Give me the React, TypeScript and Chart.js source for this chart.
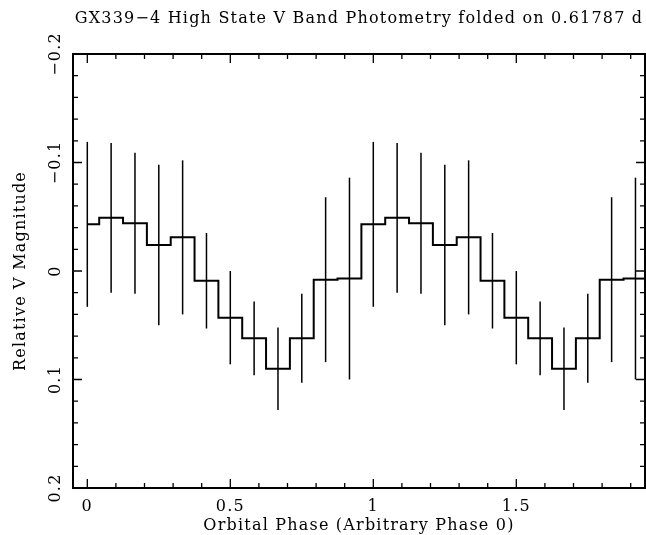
import React, { useEffect, useRef } from "react";
import { Chart, registerables } from "chart.js";

Chart.register(...registerables);

// Orbital phase of each bin centre (two cycles plotted)
const phase = [
  0, 0.0833, 0.1667, 0.25, 0.3333, 0.4167, 0.5, 0.5833, 0.6667, 0.75, 0.8333, 0.9167,
  1, 1.0833, 1.1667, 1.25, 1.3333, 1.4167, 1.5, 1.5833, 1.6667, 1.75, 1.8333, 1.9167,
];
// Relative V magnitude per bin
const magnitude = [
  -0.043, -0.049, -0.044, -0.024, -0.031, 0.009, 0.043, 0.062, 0.09, 0.062, 0.008, 0.007,
  -0.043, -0.049, -0.044, -0.024, -0.031, 0.009, 0.043, 0.062, 0.09, 0.062, 0.008, 0.007,
];
// 1-sigma error per bin
const errors = [
  0.076, 0.069, 0.065, 0.074, 0.071, 0.044, 0.043, 0.034, 0.038, 0.041, 0.076, 0.093,
  0.076, 0.069, 0.065, 0.074, 0.071, 0.044, 0.043, 0.034, 0.038, 0.041, 0.076, 0.093,
];
const binWidth = 1 / 12;

const xTickValues = [0, 0.5, 1, 1.5];
const xTickLabels = ["0", "0.5", "1", "1.5"];
const yTickValues = [-0.2, -0.1, 0, 0.1, 0.2];
const yTickLabels = ["\u22120.2", "\u22120.1", "0", "0.1", "0.2"];

const titleText = "GX339\u22124 High State V Band Photometry folded on 0.61787 d";
const xTitle = "Orbital Phase (Arbitrary Phase 0)";
const yTitle = "Relative V Magnitude";

const FONT = "'DejaVu Serif', serif";
const SPACING = "1.2px";

const decorPlugin = {
  id: "decor",
  beforeDraw(chart: any) {
    (chart.ctx as any).letterSpacing = SPACING;
  },
  afterDatasetsDraw(chart: any) {
    const { ctx, chartArea, scales } = chart;
    const xs = scales.x;
    const ys = scales.y;
    ctx.save();
    ctx.beginPath();
    ctx.rect(chartArea.left, chartArea.top, chartArea.right - chartArea.left, chartArea.bottom - chartArea.top);
    ctx.clip();
    ctx.strokeStyle = "#000";
    // error bars
    ctx.lineWidth = 1.5;
    for (let i = 0; i < phase.length; i++) {
      const x = xs.getPixelForValue(phase[i]);
      const y1 = ys.getPixelForValue(magnitude[i] - errors[i]);
      const y2 = ys.getPixelForValue(magnitude[i] + errors[i]);
      ctx.beginPath();
      ctx.moveTo(x, y1);
      ctx.lineTo(x, y2);
      ctx.stroke();
    }
    // last half-bin of the histogram
    const n = phase.length - 1;
    ctx.lineWidth = 2;
    ctx.beginPath();
    ctx.moveTo(xs.getPixelForValue(phase[n]), ys.getPixelForValue(magnitude[n]));
    ctx.lineTo(xs.getPixelForValue(phase[n] + binWidth / 2), ys.getPixelForValue(magnitude[n]));
    ctx.stroke();
    ctx.restore();
  },
  afterDraw(chart: any) {
    const { ctx, chartArea, scales } = chart;
    const xs = scales.x;
    const ys = scales.y;
    const { left, right, top, bottom } = chartArea;
    ctx.save();
    ctx.strokeStyle = "#000";
    ctx.lineWidth = 2;
    ctx.strokeRect(left, top, right - left, bottom - top);
    ctx.lineWidth = 1.3;
    // x ticks (inward, top and bottom)
    for (let k = 0; k <= 19; k++) {
      const v = k / 10;
      const x = xs.getPixelForValue(v);
      if (x < left || x > right) continue;
      const len = k % 5 === 0 ? 9 : 5;
      ctx.beginPath();
      ctx.moveTo(x, bottom);
      ctx.lineTo(x, bottom - len);
      ctx.moveTo(x, top);
      ctx.lineTo(x, top + len);
      ctx.stroke();
    }
    // y ticks (inward, left and right)
    for (let k = -10; k <= 10; k++) {
      const v = k / 50;
      const y = ys.getPixelForValue(v);
      const len = k % 5 === 0 ? 9 : 5;
      ctx.beginPath();
      ctx.moveTo(left, y);
      ctx.lineTo(left + len, y);
      ctx.moveTo(right, y);
      ctx.lineTo(right - len, y);
      ctx.stroke();
    }
    // y tick labels (rotated)
    ctx.fillStyle = "#000";
    (ctx as any).letterSpacing = SPACING;
    ctx.font = `16px ${FONT}`;
    ctx.textAlign = "center";
    ctx.textBaseline = "middle";
    for (let i = 0; i < yTickValues.length; i++) {
      const y = ys.getPixelForValue(yTickValues[i]);
      ctx.save();
      ctx.translate(56, y);
      ctx.rotate(-Math.PI / 2);
      ctx.fillText(yTickLabels[i], 0, 0);
      ctx.restore();
    }
    // main title
    ctx.font = `16px ${FONT}`;
    ctx.textAlign = "center";
    ctx.textBaseline = "alphabetic";
    ctx.fillText(titleText, 359, 23);
    ctx.restore();
  },
};

export default function App() {
  const ref = useRef<HTMLCanvasElement | null>(null);
  useEffect(() => {
    if (!ref.current) return;
    const chart = new Chart(ref.current, {
      type: "line",
      data: {
        labels: phase,
        datasets: [
          {
            data: phase.map((p, i) => ({ x: p, y: magnitude[i] })),
            borderColor: "#000",
            borderWidth: 2,
            pointRadius: 0,
            stepped: "middle",
            fill: false,
          },
        ],
      },
      options: {
        responsive: false,
        maintainAspectRatio: false,
        devicePixelRatio: 1,
        animation: false,
        layout: { padding: { top: 54, right: 1, left: 0, bottom: 0 } },
        plugins: {
          legend: { display: false },
          title: { display: false },
          tooltip: { enabled: false },
        },
        scales: {
          x: {
            type: "linear",
            min: -0.05,
            max: 1.95,
            grid: { display: false, drawTicks: false },
            border: { display: false },
            afterBuildTicks: (scale: any) => {
              scale.ticks = xTickValues.map((v) => ({ value: v }));
            },
            afterFit: (scale: any) => {
              scale.height = 47;
            },
            ticks: {
              color: "#000",
              font: { family: FONT, size: 16 },
              padding: 9,
              maxRotation: 0,
              autoSkip: false,
              callback: (v: any) => {
                const idx = xTickValues.indexOf(Number(v));
                return idx >= 0 ? xTickLabels[idx] : "";
              },
            },
            title: {
              display: true,
              text: xTitle,
              color: "#000",
              font: { family: FONT, size: 16 },
              padding: { top: 0, bottom: 0 },
            },
          },
          y: {
            type: "linear",
            min: -0.2,
            max: 0.2,
            reverse: true,
            grid: { display: false, drawTicks: false },
            border: { display: false },
            ticks: { display: false },
            afterFit: (scale: any) => {
              scale.width = 73;
            },
            title: {
              display: true,
              text: yTitle,
              color: "#000",
              font: { family: FONT, size: 16 },
              padding: { top: 11, bottom: 0 },
            },
          },
        },
      },
      plugins: [decorPlugin],
    } as any);
    return () => chart.destroy();
  }, []);
  return (
    <canvas
      ref={ref}
      width={646}
      height={535}
      style={{ position: "fixed", left: 0, top: 0, width: 646, height: 535, background: "#fff" }}
    />
  );
}
